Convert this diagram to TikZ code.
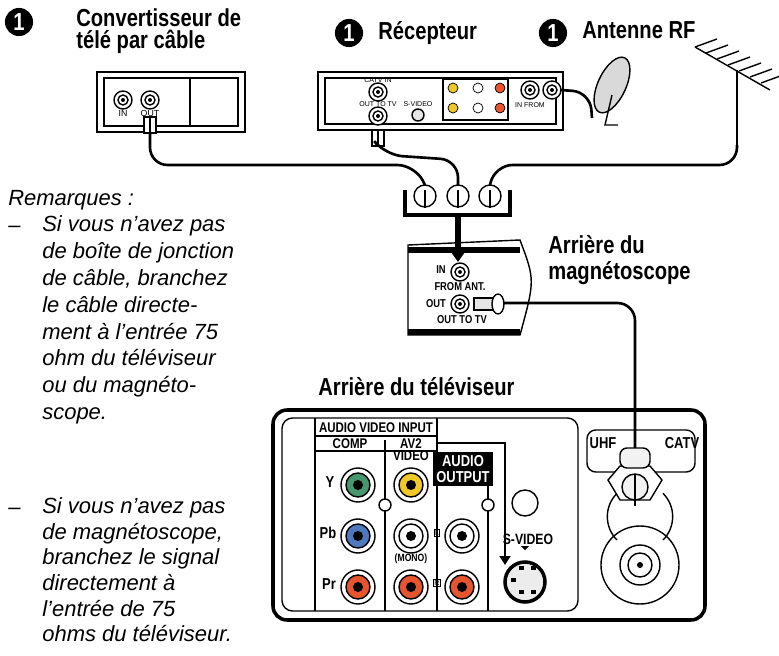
\documentclass[tikz,border=0pt]{standalone}
\usepackage{fontspec}
\setmainfont{Liberation Sans}
\newfontfamily\headfont{Liberation Sans}[FakeStretch=0.82]
\usetikzlibrary{positioning, arrows.meta, calc}

\definecolor{jackgreen}{RGB}{70,150,110}
\definecolor{jackblue}{RGB}{80,120,190}
\definecolor{jackyellow}{RGB}{240,200,40}
\definecolor{jackred}{RGB}{230,85,45}

\tikzset{
	head/.style = {font = \headfont\bfseries\fontsize{14}{13}\selectfont, anchor = north west, inner sep = 0pt, align = left},
	lbl/.style = {font = \headfont\bfseries\fontsize{6.5}{6}\selectfont, inner sep = 0.5pt},
	note/.style = {font = \itshape\fontsize{12.5}{11}\selectfont, anchor = base west, inner sep = 0pt},
	cable/.style = {line width = 1.5pt, rounded corners = 10pt},
	box/.style = {thick, fill = white},
	bulletone/.style = {circle, fill = black, text = white, inner sep = 0pt, minimum size = 16pt, font = \headfont\bfseries\fontsize{14}{14}\selectfont}
}

\newcommand\rcajack[2]{%
	\draw [thick, fill = white] (#1) circle (17);
	\draw [thick, fill = #2] (#1) circle (12);
	\fill (#1) circle (5);
}
\newcommand\coaxjack[1]{%
	\draw [thick, fill = white] (#1) circle (9);
	\draw [thick] (#1) circle (5);
	\fill (#1) circle (2);
}
\newcommand\smallplug[1]{%
	\draw [thick, fill = white] (#1) ++(-6, -8) rectangle ++(12, 16);
	\draw [thick] (#1) ++(0, -8) -- ++(0, 16);
}

\begin{document}
\begin{tikzpicture}[x = 0.02cm, y = -0.02cm]

	\useasboundingbox (0, 0) rectangle (779, 656);

	% Headings

	\node [bulletone] (b1) at (19, 22) {1};
	\node [head] (hcable) at (76, 8) {Convertisseur de};
	\node [head] (hcable2) at (76, 30) {télé par câble};
	\node [bulletone] (b2) at (349, 33) {1};
	\node [head] (hrec) at (378, 21) {Récepteur};
	\node [bulletone] (b3) at (553, 33) {1};
	\node [head] (hant) at (582, 21) {Antenne RF};

	% Cable box

	\draw [box] (97, 72) rectangle (245, 132);
	\draw [thick] (104, 78) rectangle (238, 126) (190, 78) -- (190, 126);
	\coaxjack{123, 100}
	\coaxjack{150, 100}
	\node [lbl, font = \tiny] at (123, 113) {IN};
	\node [lbl, font = \tiny] at (150, 113) {OUT};
	\smallplug{150, 125}

	% Receiver

	\draw [box] (318, 72) rectangle (563, 130);
	\draw [thick] (325, 78) rectangle (556, 124);
	\coaxjack{378, 92}
	\coaxjack{378, 116}
	\node [lbl, font = \fontsize{4}{4}\selectfont] at (378, 80) {CATV IN};
	\node [lbl, font = \fontsize{4}{4}\selectfont] at (378, 104) {OUT TO TV};
	\node [lbl, font = \fontsize{4}{4}\selectfont] at (418, 104) {S-VIDEO};
	\draw [thick, fill = gray!20] (418, 115) circle (6);
	\draw [thick] (443, 79) rectangle (508, 120);
	\foreach \cx/\cc in {453/jackyellow, 478/white, 500/jackred}
	{
		\draw [fill = \cc] (\cx, 88) circle (5);
		\draw [fill = \cc] (\cx, 108) circle (5);
	}
	\coaxjack{530, 90}
	\coaxjack{552, 90}
	\node [lbl, font = \fontsize{4}{4}\selectfont] at (530, 105) {IN FROM};
	\smallplug{378, 138}

	% Dish and antenna

	\draw [thick, fill = gray!30, rotate around = {-25 : (612, 85)}] (612, 85) ellipse (14 and 30);
	\draw [thick] (612, 95) -- (605, 125) -- (618, 125);
	\draw [cable] (560, 90) -- (590, 92) -- (592, 118);
	\draw [thick] (737, 70) -- (737, 145);
	\foreach \k in {0, ..., 6}
		\draw [thick] ({695 + 11 * \k}, {47 + 6 * \k}) -- ++(22, -8);
	\draw [thick] (695, 47) -- (770, 90);

	% Splitter

	\draw [line width = 2pt] (405, 190) -- (405, 215) -- (510, 215) -- (510, 190);
	\foreach \px/\nm in {425/pa, 458/pb, 490/pc}
	{
		\coordinate (\nm) at (\px, 185);
		\draw [thick, fill = white] (\px, 196) circle (11);
		\draw [thick] (\px, 190) -- (\px, 208);
	}
	\coordinate (cableout) at (150, 133);
	\coordinate (recout) at (378, 146);
	\coordinate (antfoot) at (737, 145);
	\draw [cable] (cableout) -- (150, 165) -- (415, 165) -- (pa);
	\draw [cable] (recout) -- (385, 155) -- (458, 160) -- (pb);
	\draw [cable] (antfoot) -- (737, 165) -- (495, 165) -- (pc);

	% VCR

	\draw [box] (408, 245) -- (520, 240) .. controls (535, 280) .. (520, 335) -- (408, 335) -- cycle;
	\draw [line width = 3pt] (408, 250) -- (520, 250) (408, 332) -- (520, 332);
	\draw [line width = 3pt, -{Triangle[length = 6pt, width = 8pt]}] (458, 216) -- (458, 262);
	\coaxjack{460, 272}
	\coaxjack{460, 304}
	\node [lbl] at (441, 270) {IN};
	\node [lbl] at (460, 287) {FROM ANT.};
	\node [lbl] at (436, 304) {OUT};
	\node [lbl] at (462, 320) {OUT TO TV};
	\draw [thick, fill = gray!20] (474, 298) rectangle (495, 310);
	\draw [thick, fill = white] (498, 304) ellipse (6 and 10);
	\node [head, anchor = north west] (hvcr) at (548, 235) {Arrière du\\[2pt]magnétoscope};

	% TV back

	\node [head, anchor = west] (htv) at (318, 387) {Arrière du téléviseur};
	\draw [line width = 2pt, rounded corners = 8pt] (273, 410) rectangle (705, 620);
	\draw [thick, rounded corners = 6pt] (282, 418) rectangle (578, 611);
	\draw [thick] (315, 418) -- (315, 611) (385, 440) -- (385, 611) (437, 418) -- (437, 611) (488, 452) -- (488, 611);
	\draw [thick] (315, 436) -- (437, 436) (315, 451) -- (437, 451);
	\node [lbl, font = \headfont\bfseries\fontsize{8}{8}\selectfont] at (376, 428) {AUDIO VIDEO INPUT};
	\node [lbl, font = \headfont\bfseries\fontsize{8}{8}\selectfont] at (350, 444) {COMP};
	\node [lbl, font = \headfont\bfseries\fontsize{8}{8}\selectfont] at (411, 444) {AV2};
	\node [lbl, font = \headfont\bfseries\fontsize{8}{8}\selectfont] at (411, 456) {VIDEO};
	\node [fill = black, text = white, inner sep = 2pt, align = center, font = \headfont\bfseries\fontsize{9}{9}\selectfont] (aout) at (463, 469) {AUDIO\\OUTPUT};
	\node [lbl, font = \headfont\bfseries\fontsize{9}{9}\selectfont] at (330, 482) {Y};
	\node [lbl, font = \headfont\bfseries\fontsize{9}{9}\selectfont] at (328, 533) {Pb};
	\node [lbl, font = \headfont\bfseries\fontsize{9}{9}\selectfont] at (329, 584) {Pr};
	\rcajack{358, 485}{jackgreen}
	\rcajack{358, 536}{jackblue}
	\rcajack{358, 587}{jackred}
	\rcajack{411, 485}{jackyellow}
	\rcajack{411, 536}{white}
	\rcajack{411, 587}{jackred}
	\rcajack{462, 536}{white}
	\rcajack{462, 587}{jackred}
	\node [lbl, font = \headfont\bfseries\fontsize{6}{6}\selectfont] at (411, 559) {(MONO)};
	\node [draw, lbl, font = \fontsize{4}{4}\selectfont] at (437, 533) {L};
	\node [draw, lbl, font = \fontsize{4}{4}\selectfont] at (437, 583) {R};
	\draw [thick, fill = white] (385, 505) circle (6);
	\draw [thick, fill = white] (488, 505) circle (6);
	\draw [thick] (525, 503) circle (13);
	\draw [line width = 1.5pt, -{Triangle[length = 5pt, width = 6pt]}] (437, 443) -- (505, 443) -- (505, 565);
	\node [lbl, font = \headfont\bfseries\fontsize{8.5}{8}\selectfont] at (528, 539) {S-VIDEO};
	\fill (525, 550) -- (521, 546) -- (529, 546) -- cycle;
	\draw [line width = 2pt, fill = gray!15] (525, 582) circle (20);
	\foreach \sx/\sy in {-14/0, -6/-12, 6/-12, -6/12, 6/12}
		\fill ({525 + \sx}, {582 + \sy}) rectangle +(5, -4);

	% RF section

	\draw [thick, rounded corners = 5pt] (587, 430) rectangle (695, 472);
	\node [lbl, font = \headfont\bfseries\fontsize{9}{9}\selectfont] at (603, 443) {UHF};
	\node [lbl, font = \headfont\bfseries\fontsize{9}{9}\selectfont] at (682, 443) {CATV};
	\draw [thick, fill = white] (640, 565) circle (39);
	\draw [thick] (617, 540) arc (135 : 225 : 33) (663, 540) arc (45 : -45 : 33);
	\draw [thick, fill = white] (640, 565) circle (20);
	\draw [thick] (640, 565) circle (12);
	\fill (640, 565) circle (3);
	\coordinate (tvin) at (635, 448);
	\coordinate (vcrout) at (504, 303);
	\draw [cable] (vcrout) -- (635, 303) -- (tvin);
	\draw [thick, fill = white] (620, 466) -- (650, 466) -- (662, 480) -- (650, 500) -- (620, 500) -- (608, 480) -- cycle;
	\draw [thick, fill = gray!10, rounded corners = 4pt] (620, 448) rectangle (650, 468);
	\draw [thick, fill = gray!10] (635, 487) circle (13);
	\draw [thick] (635, 474) -- (635, 506);

	% Notes

	\node [note] (rem) at (8, 205) {Remarques :};
	\foreach \ln [count = \i] in {Si vous n’avez pas, de boîte de jonction, de câble{,} branchez, le câble directe-, ment à l’entrée 75, ohm du téléviseur, ou du magnéto-, scope.}
		\node [note] at (42, {205 + 26.8 * \i}) {\ln};
	\node [note] at (8, 232) {–};
	\foreach \ln [count = \i] in {Si vous n’avez pas, de magnétoscope{,}, branchez le signal, directement à, l’entrée de 75, ohms du téléviseur.}
		\node [note] at (42, {488 + 25.6 * \i}) {\ln};
	\node [note] at (8, 514) {–};

\end{tikzpicture}
\end{document}
